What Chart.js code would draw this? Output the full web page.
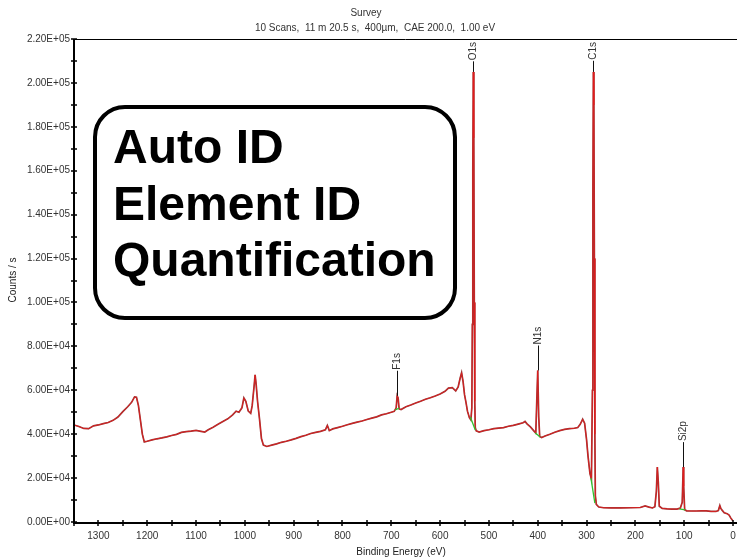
<!DOCTYPE html>
<html>
<head>
<meta charset="utf-8">
<script src="https://cdn.jsdelivr.net/npm/chart.js@4.4.1/dist/chart.umd.min.js"></script>
<style>
  html, body { margin: 0; padding: 0; background: #fff; }
  #wrap { width: 737px; height: 559px; position: relative; }
</style>
</head>
<body>
<div id="wrap"><canvas id="c"></canvas></div>
<script>
// XPS survey spectrum: binding energy (eV) and counts per second
const bindingEnergy = [
  1350, 1340, 1330, 1320, 1310, 1300, 1290, 1280, 1270, 1260, 1250, 1240, 1232, 1226, 1222, 1218, 1214, 1210, 1206,
  1200, 1190, 1180, 1170, 1160, 1150, 1140, 1130, 1120, 1110, 1100, 1090, 1082, 1075, 1065, 1055, 1045, 1035, 1025,
  1018, 1012, 1006, 1002, 998, 993, 988, 985, 981, 979, 977, 974, 970, 966, 962, 955, 945, 935, 925, 915, 905, 895,
  885, 875, 865, 855, 845, 835, 831, 827, 820, 810, 800, 790, 780, 770, 760, 750, 740, 730, 720, 710, 700, 694, 690,
  688, 686, 684, 680, 670, 660, 650, 640, 630, 620, 610, 600, 590, 583, 575, 568, 563, 559, 556, 553, 550, 547, 544,
  540, 537, 535, 534, 533, 532, 531, 530, 529, 528, 526, 520, 510, 500, 490, 480, 470, 460, 450, 440, 430, 426, 422,
  415, 408, 404, 402, 400, 398, 396, 392, 385, 375, 365, 355, 345, 335, 325, 318, 313, 308, 304, 300, 297, 293, 290,
  288, 287, 286, 285, 284, 283, 282, 280, 275, 265, 250, 230, 210, 190, 180, 172, 165, 160, 157, 155, 153, 151, 145,
  135, 125, 115, 108, 104, 102, 101, 99, 95, 85, 75, 65, 55, 45, 35, 30, 27, 25, 22, 18, 12, 8, 5, 2, 0
];
const countsPerSecond = [
  44200, 43500, 42600, 42500, 43800, 44200, 44800, 45300, 46300, 47800, 50300, 52500, 54500, 57000, 56800, 53000, 46500, 40000, 36500,
  36800, 37400, 37900, 38300, 38800, 39400, 39900, 40800, 41200, 41400, 41700, 41300, 41000, 42000, 43200, 44500, 45800, 47000, 48800,
  50500, 50000, 52000, 56500, 55000, 50500, 49500, 53000, 62000, 67000, 63000, 55000, 47000, 38000, 35000, 34400, 35000, 35600, 36300, 36800, 37400, 38100,
  38900, 39500, 40300, 40800, 41300, 42000, 44000, 41600, 42400, 43000, 43600, 44300, 44900, 45500, 46000, 46700, 47300, 47900, 48800, 49300, 50000, 50400, 52000,
  57500, 56500, 51500, 51200, 52500, 53300, 54200, 55000, 55900, 56600, 57400, 58300, 59500, 61000, 61200, 59700, 61500, 65500, 68000, 64000, 58000, 54500, 50500,
  47500, 46500, 52000, 90000, 160000, 205000, 175000, 100000, 55000, 43000, 41500, 41000, 41600, 42000, 42500, 42800, 43000, 43600, 44000, 44600, 45200, 45800, 44700,
  43300, 41500, 40500, 55000, 69000, 48000, 39000, 38500, 39200, 40000, 40900, 41600, 42200, 42500, 42700, 43000, 44500, 46800, 45000, 37500, 30000, 22000, 19500,
  60000, 150000, 205000, 190000, 120000, 40000, 12000, 8000, 6800, 6500, 6400, 6400, 6500, 6600, 7300, 6800, 6400, 7000, 14000, 25000, 18000, 7200, 6200,
  6000, 5900, 5900, 6300, 9000, 25000, 16000, 5600, 5100, 5000, 5000, 5100, 5100, 4800, 4800, 5200, 7500, 6200, 5300, 4200, 3800, 3200, 2000, 1000, 600
];

// Identified peaks
const peakNames = ['F1s', 'O1s', 'N1s', 'C1s', 'Si2p'];
const peakEnergies = [688, 532, 400, 286, 102];

// Background segments under each identified peak: [start BE, end BE] and [start counts, end counts]
const bgEnergies = [[692, 684], [538, 528], [405, 395], [291, 283], [110, 98]];
const bgCounts = [[51000, 51900], [47800, 41900], [40500, 38700], [20000, 8600], [6000, 5500]];

// Axis ticks
const xTickStep = 50;
const xLabelStep = 100;
const yTickStep = 10000;
const yLabelStep = 20000;

const titleText = 'Survey';
const subtitleText = '10 Scans,  11 m 20.5 s,  400µm,  CAE 200.0,  1.00 eV';
const boxLines = ['Auto ID', 'Element ID', 'Quantification'];

const FONT = "'Liberation Sans', Arial, sans-serif";

const spectrum = bindingEnergy.map((e, i) => ({ x: e, y: countsPerSecond[i] }));

const bgDatasets = bgEnergies.map((pair, i) => ({
  data: [{ x: pair[0], y: bgCounts[i][0] }, { x: pair[1], y: bgCounts[i][1] }],
  borderColor: '#2fc12f',
  borderWidth: 1.3,
  pointRadius: 0,
  fill: false,
  order: 0
}));

function sci(v) {
  if (v === 0) return '0.00E+00';
  const exp = Math.floor(Math.log10(v));
  const mant = v / Math.pow(10, exp);
  return mant.toFixed(2) + 'E+' + String(exp).padStart(2, '0');
}

const framePlugin = {
  id: 'frame',
  afterDraw(chart) {
    const ctx = chart.ctx;
    const a = chart.chartArea;
    const xs = chart.scales.x, ys = chart.scales.y;
    ctx.save();

    // titles
    ctx.fillStyle = '#333';
    ctx.textAlign = 'center';
    ctx.textBaseline = 'middle';
    ctx.font = '10px ' + FONT;
    ctx.fillText(titleText, 366, 13);
    ctx.fillText(subtitleText, 375, 28);

    // top border
    ctx.strokeStyle = '#000';
    ctx.lineWidth = 1;
    ctx.beginPath();
    ctx.moveTo(a.left, a.top + 0.5);
    ctx.lineTo(737, a.top + 0.5);
    ctx.stroke();

    // axes
    ctx.lineWidth = 2;
    ctx.beginPath();
    ctx.moveTo(a.left, a.top);
    ctx.lineTo(a.left, a.bottom + 1);
    ctx.lineTo(737, a.bottom + 1);
    ctx.stroke();

    // tick marks crossing the axes
    ctx.lineWidth = 1.5;
    ctx.beginPath();
    for (let v = 0; v <= xs.max; v += xTickStep) {
      const px = Math.round(xs.getPixelForValue(v));
      ctx.moveTo(px, a.bottom - 2);
      ctx.lineTo(px, a.bottom + 4);
    }
    for (let v = 0; v <= ys.max; v += yTickStep) {
      const py = Math.round(ys.getPixelForValue(v));
      ctx.moveTo(a.left - 3, py);
      ctx.lineTo(a.left + 3, py);
    }
    ctx.stroke();

    // axis titles
    ctx.fillStyle = '#222';
    ctx.font = '10px ' + FONT;
    ctx.textAlign = 'center';
    ctx.textBaseline = 'middle';
    ctx.fillText('Binding Energy (eV)', 401, 552);
    ctx.save();
    ctx.translate(13, 280);
    ctx.rotate(-Math.PI / 2);
    ctx.fillText('Counts / s', 0, 0);
    ctx.restore();

    // peak labels with leader lines
    ctx.font = '10px ' + FONT;
    peakNames.forEach((name, i) => {
      const e = peakEnergies[i];
      const idx = bindingEnergy.indexOf(e);
      const px = Math.round(xs.getPixelForValue(e)) + 0.5;
      const py = ys.getPixelForValue(countsPerSecond[idx]);
      const w = ctx.measureText(name).width;
      const labelBottom = Math.max(py - 25, a.top + 4 + w);
      ctx.strokeStyle = '#111';
      ctx.lineWidth = 1;
      ctx.beginPath();
      ctx.moveTo(px, py);
      ctx.lineTo(px, labelBottom);
      ctx.stroke();
      ctx.save();
      ctx.translate(px, labelBottom - 1);
      ctx.rotate(-Math.PI / 2);
      ctx.fillStyle = '#333';
      ctx.textAlign = 'left';
      ctx.textBaseline = 'middle';
      ctx.fillText(name, 0, 0);
      ctx.restore();
    });

    // annotation box
    ctx.lineWidth = 4;
    ctx.strokeStyle = '#000';
    ctx.fillStyle = '#fff';
    ctx.beginPath();
    ctx.roundRect(95, 107, 360, 211, 30);
    ctx.fill();
    ctx.stroke();
    ctx.fillStyle = '#000';
    ctx.font = 'bold 48px ' + FONT;
    ctx.textAlign = 'left';
    ctx.textBaseline = 'alphabetic';
    const baselines = [163, 220, 276];
    boxLines.forEach((t, i) => ctx.fillText(t, 113, baselines[i]));

    ctx.restore();
  }
};

new Chart(document.getElementById('c'), {
  type: 'line',
  data: {
    datasets: [
      {
        data: spectrum,
        borderColor: '#e31b1b',
        borderWidth: 0.8,
        pointRadius: 0,
        fill: false,
        order: 1
      },
      {
        data: spectrum,
        borderColor: '#9a3a3a',
        borderWidth: 1.7,
        pointRadius: 0,
        fill: false,
        order: 2
      },
      ...bgDatasets
    ]
  },
  options: {
    responsive: true,
    maintainAspectRatio: false,
    animation: false,
    devicePixelRatio: 1,
    layout: { padding: { top: 39, right: 4, left: 0, bottom: 0 } },
    plugins: { legend: { display: false }, title: { display: false }, tooltip: { enabled: false } },
    elements: { line: { tension: 0 } },
    scales: {
      x: {
        type: 'linear',
        reverse: true,
        min: 0,
        max: 1350,
        grid: { display: false, drawTicks: false },
        border: { display: false },
        ticks: {
          stepSize: xTickStep,
          autoSkip: false,
          maxRotation: 0,
          padding: 8,
          color: '#333',
          font: { family: FONT, size: 10 },
          callback: v => (v % xLabelStep === 0 ? String(v) : '')
        },
        afterFit: s => { s.height = 37; s.paddingLeft = 0; s.paddingRight = 0; }
      },
      y: {
        min: 0,
        max: 220000,
        grid: { display: false, drawTicks: false },
        border: { display: false },
        ticks: {
          stepSize: yTickStep,
          autoSkip: false,
          padding: 4,
          color: '#333',
          font: { family: FONT, size: 10 },
          callback: v => (v % yLabelStep === 0 ? sci(v) : '')
        },
        afterFit: s => { s.width = 74; s.paddingTop = 0; s.paddingBottom = 0; }
      }
    }
  },
  plugins: [framePlugin]
});
</script>
</body>
</html>
